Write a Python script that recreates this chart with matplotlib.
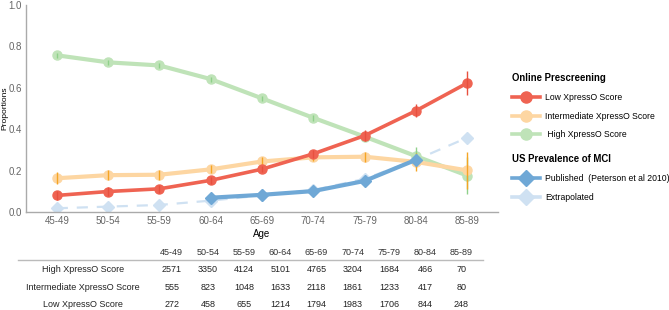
import matplotlib.pyplot as plt
from matplotlib.lines import Line2D

ages = ["45-49", "50-54", "55-59", "60-64", "65-69", "70-74", "75-79", "80-84", "85-89"]

low = [0.080, 0.099, 0.112, 0.153, 0.207, 0.281, 0.369, 0.489, 0.623]
low_err = [0.02, 0.02, 0.02, 0.016, 0.016, 0.02, 0.028, 0.032, 0.06]
mid = [0.163, 0.178, 0.180, 0.206, 0.244, 0.264, 0.267, 0.242, 0.201]
mid_err = [0.028, 0.025, 0.025, 0.02, 0.02, 0.02, 0.025, 0.045, 0.09]
high = [0.757, 0.723, 0.708, 0.642, 0.549, 0.455, 0.364, 0.270, 0.176]
high_err = [0.012, 0.012, 0.012, 0.012, 0.012, 0.014, 0.02, 0.045, 0.09]

pub_ages = ["60-64", "65-69", "70-74", "75-79", "80-84"]
published = [0.069, 0.083, 0.101, 0.150, 0.252]
extrapolated = [0.018, 0.026, 0.034, 0.055, 0.080, 0.106, 0.160, 0.252, 0.359]

table_rows = ["High XpressO Score", "Intermediate XpressO Score", "Low XpressO Score"]
n_high = [2571, 3350, 4124, 5101, 4765, 3204, 1684, 466, 70]
n_mid = [555, 823, 1048, 1633, 2118, 1861, 1233, 417, 80]
n_low = [272, 458, 655, 1214, 1794, 1983, 1706, 844, 248]

plt.rcParams["font.family"] = ["Liberation Sans", "DejaVu Sans"]

RED, ORANGE, GREEN = "#ef6352", "#fdd6a2", "#bfe3b8"
BLUE, LIGHTBLUE = "#6fa8d6", "#cfe1f2"

fig = plt.figure(figsize=(6.69, 3.10), dpi=100)
ax = fig.add_axes([26 / 669, 1 - 212 / 310, 472 / 669, 207 / 310])

x = list(range(len(ages)))
px = [ages.index(a) for a in pub_ages]

ax.plot(x, extrapolated, color=LIGHTBLUE, lw=1.6, ls=(0, (5, 4)), marker="D",
        ms=6, mec=LIGHTBLUE, zorder=1)
ax.plot(x, high, color=GREEN, lw=3, marker="o", ms=6.5, zorder=2)
ax.errorbar(x, high, yerr=high_err, fmt="none", ecolor="#8fd18a", elinewidth=1, zorder=2.5)
ax.plot(x, mid, color=ORANGE, lw=3, marker="o", ms=6.5, zorder=3)
ax.errorbar(x, mid, yerr=mid_err, fmt="none", ecolor="#f5a524", elinewidth=1, zorder=3.5)
ax.plot(px, published, color=BLUE, lw=3, marker="D", ms=6.5, zorder=4)
ax.plot(x, low, color=RED, lw=2.6, marker="o", ms=6.5, zorder=5)
ax.errorbar(x, low, yerr=low_err, fmt="none", ecolor="#e8503e", elinewidth=1, zorder=5.5)

ax.set_xlim(-0.6, 8.6)
ax.set_ylim(0, 1.0)
ax.set_xticks(x)
ax.set_xticklabels(ages)
ax.set_yticks([0, 0.2, 0.4, 0.6, 0.8, 1.0])
ax.set_yticklabels(["0.0", "0.2", "0.4", "0.6", "0.8", "1.0"])
ax.tick_params(length=0, labelsize=7, colors="#666666", pad=3)
for s in ["top", "right"]:
    ax.spines[s].set_visible(False)
for s in ["left", "bottom"]:
    ax.spines[s].set_color("#aaaaaa")
    ax.spines[s].set_linewidth(1)
fig.text(4.5 / 669, 1 - 108 / 310, "Proportions", fontsize=6, rotation=90,
         ha="center", va="center")
fig.text(262 / 669, 1 - 234 / 310, "Age", fontsize=7, ha="center", va="center")

# legends
h1 = [Line2D([], [], color=RED, lw=2.6, marker="o", ms=8),
      Line2D([], [], color=ORANGE, lw=2.6, marker="o", ms=8),
      Line2D([], [], color=GREEN, lw=2.6, marker="o", ms=8)]
fig.legend(h1, ["Low XpressO Score", "Intermediate XpressO Score", " High XpressO Score"],
           loc="upper left", bbox_to_anchor=(504 / 669, 1 - 65 / 310), frameon=False,
           title="Online Prescreening", alignment="left", fontsize=6.2,
           title_fontproperties={"weight": "bold", "size": 6.9},
           handlelength=3.3, labelspacing=1.15, handletextpad=0.6)
h2 = [Line2D([], [], color=BLUE, lw=2.6, marker="D", ms=8),
      Line2D([], [], color=LIGHTBLUE, lw=2.6, marker="D", ms=8)]
fig.legend(h2, ["Published  (Peterson et al 2010)", "Extrapolated"],
           loc="upper left", bbox_to_anchor=(504 / 669, 1 - 146 / 310), frameon=False,
           title="US Prevalence of MCI", alignment="left", fontsize=6.2,
           title_fontproperties={"weight": "bold", "size": 6.9},
           handlelength=3.3, labelspacing=1.15, handletextpad=0.6)

# table underneath
col_x = [171.7 + 36.2 * i for i in range(len(ages))]
for cx, a in zip(col_x, ages):
    fig.text(cx / 669, 1 - 252.7 / 310, a, fontsize=6.5, ha="center", va="center", color="#333333")
fig.add_artist(Line2D([18 / 669, 483 / 669], [1 - 260 / 310, 1 - 260 / 310],
                      color="#bbbbbb", lw=1))
row_y = [269.3, 287.7, 304.3]
for ry, name, counts in zip(row_y, table_rows, [n_high, n_mid, n_low]):
    fig.text(83 / 669, 1 - ry / 310, name, fontsize=6.5, ha="center", va="center", color="#222222")
    for cx, c in zip(col_x, counts):
        fig.text(cx / 669, 1 - ry / 310, str(c), fontsize=6.5, ha="center", va="center",
                 color="#222222")

fig.savefig("out.png", dpi=100)
